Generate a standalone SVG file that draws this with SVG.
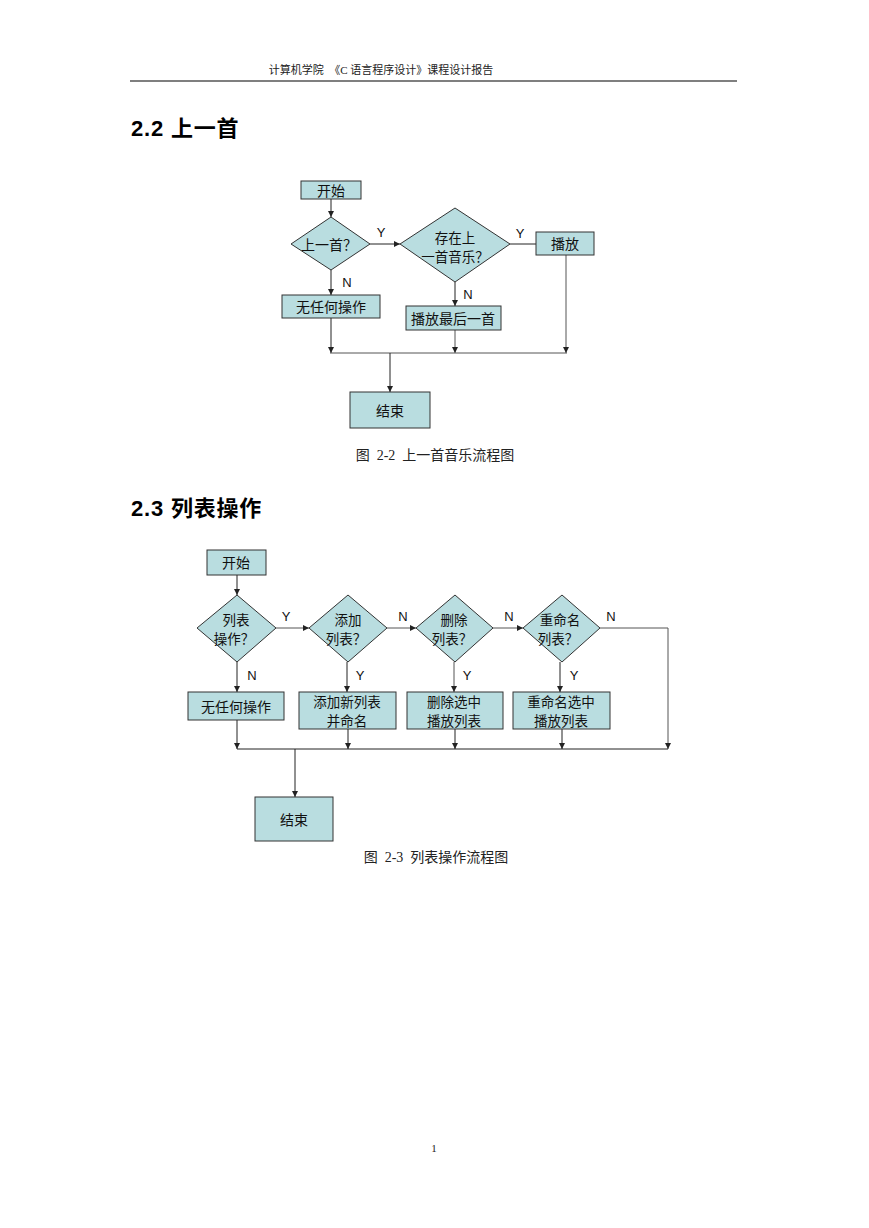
<svg xmlns="http://www.w3.org/2000/svg" width="869" height="1228" viewBox="0 0 869 1228">
<style>
.node{fill:#b9dde0;stroke:#333;stroke-width:1}
.t{font-family:"Noto Sans CJK SC",sans-serif;font-size:14px;fill:#111;text-anchor:middle;dominant-baseline:central}
.t2{font-family:"Noto Sans CJK SC",sans-serif;font-size:13.5px;fill:#111;text-anchor:middle;dominant-baseline:central}
.lbl{font-family:"Liberation Sans",Arial,sans-serif;font-size:13px;fill:#111;text-anchor:middle;dominant-baseline:central}
.ln{fill:none;stroke:#222;stroke-width:1}
.ln2{fill:none;stroke:#555;stroke-width:1}
.hdr{font-family:"Liberation Serif","Noto Sans CJK SC",serif;font-size:11px;fill:#222;text-anchor:middle}
.cap{font-family:"Liberation Serif","Noto Sans CJK SC",serif;font-size:14px;fill:#222;text-anchor:middle}
.h2{font-family:"Liberation Sans","Noto Sans CJK SC",sans-serif;font-size:22px;font-weight:bold;fill:#000;letter-spacing:0.8px}
</style>
<defs>
<marker id="ah" viewBox="0 0 6 6" refX="6" refY="3" markerWidth="6" markerHeight="6" markerUnits="userSpaceOnUse" orient="auto">
<path d="M0,0 L6,3 L0,6 Z" fill="#222"/>
</marker>
</defs>
<rect width="869" height="1228" fill="#fff"/>
<g id="page">
<text class="hdr" x="381" y="74" xml:space="preserve">计算机学院  《C 语言程序设计》课程设计报告</text>
<line x1="130" y1="81" x2="737" y2="81" stroke="#000" stroke-width="1.2"/>
<text class="h2" x="131" y="136">2.2 上一首</text>
<text class="h2" x="131" y="516">2.3 列表操作</text>
<text class="cap" x="435" y="460" xml:space="preserve">图  2-2  上一首音乐流程图</text>
<text class="cap" x="436" y="862" xml:space="preserve">图  2-3  列表操作流程图</text>
<text class="hdr" x="434" y="1152">1</text>
</g>
<g id="connectors1">
<path class="ln" d="M331,199 V217" marker-end="url(#ah)"/>
<path class="ln" d="M370,244 H400" marker-end="url(#ah)"/>
<path class="ln" d="M510,244 H536"/>
<path class="ln" d="M331,270 V295" marker-end="url(#ah)"/>
<path class="ln" d="M455,282 V306" marker-end="url(#ah)"/>
<path class="ln" d="M331,318 V353" marker-end="url(#ah)"/>
<path class="ln2" d="M455,330 V353" marker-end="url(#ah)"/>
<path class="ln2" d="M566,255 V353" marker-end="url(#ah)"/>
<path class="ln2" d="M330,353 H567"/>
<path class="ln" d="M390,353 V392" marker-end="url(#ah)"/>
<text class="lbl" x="381" y="232">Y</text>
<text class="lbl" x="520" y="233">Y</text>
<text class="lbl" x="347" y="282">N</text>
<text class="lbl" x="468" y="294">N</text>
</g>
<g id="start1"><rect class="node" x="301" y="181" width="60" height="18"/><text class="t" x="331" y="190">开始</text></g>
<g id="dec1"><polygon class="node" points="331,217 370,244 331,270 291,244"/><text class="t" x="329" y="244">上一首？</text></g>
<g id="dec2"><polygon class="node" points="455,208 510,244 455,282 400,244"/><text class="t2" x="455" y="237">存在上</text><text class="t2" x="455" y="256">一首音乐？</text></g>
<g id="play"><rect class="node" x="536" y="232" width="58" height="23"/><text class="t" x="565" y="243">播放</text></g>
<g id="noop1"><rect class="node" x="282" y="295" width="98" height="23"/><text class="t" x="331" y="306">无任何操作</text></g>
<g id="playlast"><rect class="node" x="406" y="306" width="95" height="24"/><text class="t" x="453" y="318">播放最后一首</text></g>
<g id="end1"><rect class="node" x="350" y="392" width="80" height="36"/><text class="t" x="390" y="410">结束</text></g>

<g id="connectors2">
<path class="ln" d="M237,575 V595" marker-end="url(#ah)"/>
<path class="ln2" d="M276,628 H309" marker-end="url(#ah)"/>
<path class="ln2" d="M387,628 H416" marker-end="url(#ah)"/>
<path class="ln2" d="M493,628 H523" marker-end="url(#ah)"/>
<path class="ln2" d="M600,628 H668 V749" marker-end="url(#ah)"/>
<path class="ln" d="M237,662 V692" marker-end="url(#ah)"/>
<path class="ln" d="M347,662 V692" marker-end="url(#ah)"/>
<path class="ln2" d="M454,662 V692" marker-end="url(#ah)"/>
<path class="ln" d="M560,662 V692" marker-end="url(#ah)"/>
<path class="ln" d="M237,720 V749" marker-end="url(#ah)"/>
<path class="ln" d="M348,729 V749" marker-end="url(#ah)"/>
<path class="ln" d="M455,729 V749" marker-end="url(#ah)"/>
<path class="ln" d="M562,729 V749" marker-end="url(#ah)"/>
<path class="ln" d="M237,749 H668"/>
<path class="ln" d="M295,749 V797" marker-end="url(#ah)"/>
<text class="lbl" x="286" y="616">Y</text>
<text class="lbl" x="403" y="616">N</text>
<text class="lbl" x="509" y="616">N</text>
<text class="lbl" x="611" y="616">N</text>
<text class="lbl" x="252" y="675">N</text>
<text class="lbl" x="360" y="675">Y</text>
<text class="lbl" x="467" y="675">Y</text>
<text class="lbl" x="574" y="675">Y</text>
</g>
<g id="start2"><rect class="node" x="207" y="550" width="59" height="25"/><text class="t" x="236" y="562">开始</text></g>
<g id="decA"><polygon class="node" points="237,595 276,628 237,662 197,628"/><text class="t2" x="236" y="619">列表</text><text class="t2" x="234" y="638">操作？</text></g>
<g id="decB"><polygon class="node" points="348,595 387,628 348,662 309,628"/><text class="t2" x="348" y="619">添加</text><text class="t2" x="346" y="638">列表？</text></g>
<g id="decC"><polygon class="node" points="455,595 493,628 455,662 416,628"/><text class="t2" x="454" y="619">删除</text><text class="t2" x="452" y="638">列表？</text></g>
<g id="decD"><polygon class="node" points="562,595 600,628 562,662 523,628"/><text class="t2" x="560" y="619">重命名</text><text class="t2" x="558" y="638">列表？</text></g>
<g id="noop2"><rect class="node" x="188" y="692" width="96" height="28"/><text class="t" x="236" y="706">无任何操作</text></g>
<g id="addlist"><rect class="node" x="299" y="692" width="97" height="37"/><text class="t2" x="347" y="701">添加新列表</text><text class="t2" x="347" y="720">并命名</text></g>
<g id="dellist"><rect class="node" x="407" y="692" width="96" height="37"/><text class="t2" x="454" y="701">删除选中</text><text class="t2" x="454" y="720">播放列表</text></g>
<g id="renlist"><rect class="node" x="513" y="692" width="97" height="37"/><text class="t2" x="561" y="701">重命名选中</text><text class="t2" x="561" y="720">播放列表</text></g>
<g id="end2"><rect class="node" x="255" y="797" width="78" height="44"/><text class="t" x="294" y="819">结束</text></g>
</svg>
